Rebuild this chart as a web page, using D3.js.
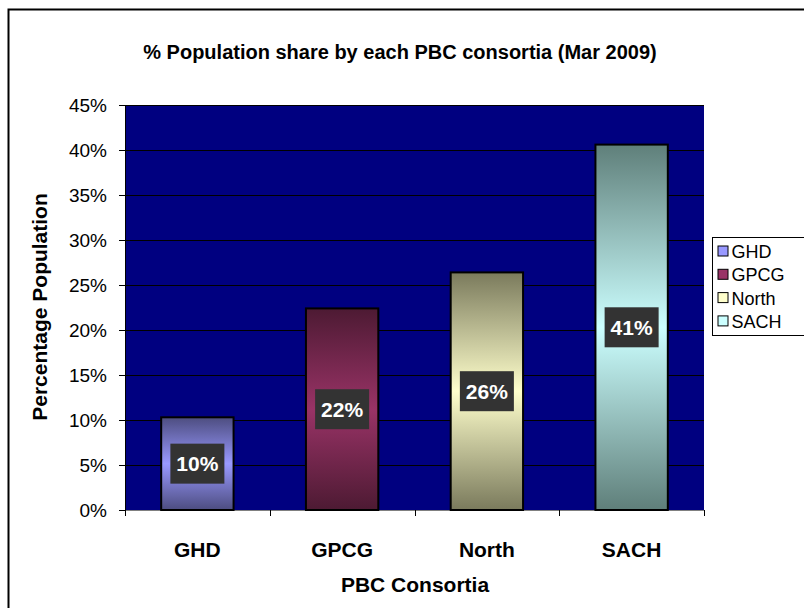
<!DOCTYPE html>
<html><head><meta charset="utf-8">
<script src="https://cdn.jsdelivr.net/npm/d3@7"></script>
<style>body{margin:0;background:#fff}svg{display:block}</style>
</head><body>
<script>
const categories = ["GHD", "GPCG", "North", "SACH"];
const values = [0.103, 0.224, 0.264, 0.406];
const labels = ["10%", "22%", "26%", "41%"];
const yTicks = [0, 0.05, 0.10, 0.15, 0.20, 0.25, 0.30, 0.35, 0.40, 0.45];
const baseColors = ["#9999ff", "#993366", "#ffffcc", "#ccffff"];
const darkColors = ["#4d4d80", "#4d1a33", "#7a7a5c", "#5f7f7a"];

const W = 804, H = 608;
const svg = d3.select("body").append("svg").attr("width", W).attr("height", H);
const font = "Liberation Sans, Arial, sans-serif";

svg.append("rect").attr("x", 8.5).attr("y", 9.5).attr("width", 820).attr("height", 620)
  .attr("fill", "#fff").attr("stroke", "#000").attr("stroke-width", 2);

const plot = {l: 125, r: 704, t: 105, b: 510};
const x = d3.scaleBand().domain(categories).range([plot.l, plot.r]).paddingInner(0.5).paddingOuter(0.25);
const xb = d3.scaleBand().domain(categories).range([plot.l, plot.r]);
const y = d3.scaleLinear().domain([0, 0.45]).range([plot.b, plot.t]);

const defs = svg.append("defs");
categories.forEach((c, i) => {
  const g = defs.append("linearGradient").attr("id", "g" + i).attr("x1", 0).attr("y1", 0).attr("x2", 0).attr("y2", 1);
  g.append("stop").attr("offset", "0%").attr("stop-color", darkColors[i]);
  g.append("stop").attr("offset", "50%").attr("stop-color", baseColors[i]);
  g.append("stop").attr("offset", "100%").attr("stop-color", darkColors[i]);
});

svg.append("rect").attr("x", plot.l).attr("y", plot.t).attr("width", plot.r - plot.l).attr("height", plot.b - plot.t)
  .attr("fill", "#000080");

// gridlines
svg.append("g").selectAll("line").data(yTicks.slice(1)).join("line")
  .attr("x1", plot.l).attr("x2", plot.r).attr("y1", d => Math.round(y(d)) + 0.5).attr("y2", d => Math.round(y(d)) + 0.5)
  .attr("stroke", "#000").attr("stroke-width", 1.2);

// y axis
const yAxis = svg.append("g").attr("transform", `translate(${plot.l},0)`)
  .call(d3.axisLeft(y).tickValues(yTicks).tickFormat(d3.format(".0%")).tickSize(6).tickPadding(12));
yAxis.select(".domain").attr("stroke", "#000");
yAxis.selectAll("text").attr("font-family", font).attr("font-size", 19).attr("fill", "#000");

// x axis
const xAxis = svg.append("g").attr("transform", `translate(0,${plot.b})`);
xAxis.append("line").attr("x1", plot.l).attr("x2", plot.r).attr("y1", 0.5).attr("y2", 0.5).attr("stroke", "#808080");
const bounds = categories.map(c => xb(c)).concat([plot.r]);
xAxis.selectAll("line.t").data(bounds).join("line").attr("class", "t")
  .attr("x1", d => Math.round(d) + 0.5).attr("x2", d => Math.round(d) + 0.5).attr("y1", 0).attr("y2", 6).attr("stroke", "#000");
xAxis.selectAll("text").data(categories).join("text")
  .attr("x", d => xb(d) + xb.bandwidth() / 2).attr("y", 47).attr("text-anchor", "middle")
  .attr("font-family", font).attr("font-size", 21).attr("font-weight", "bold").text(d => d);

// bars
svg.append("g").selectAll("rect").data(categories).join("rect")
  .attr("x", d => x(d)).attr("width", x.bandwidth())
  .attr("y", (d, i) => y(values[i])).attr("height", (d, i) => plot.b - y(values[i]))
  .attr("fill", (d, i) => `url(#g${i})`).attr("stroke", "#000").attr("stroke-width", 2);

// labels
const lg = svg.append("g").selectAll("g").data(categories).join("g")
  .attr("transform", (d, i) => `translate(${x(d) + x.bandwidth() / 2},${(y(values[i]) + plot.b) / 2})`);
lg.append("rect").attr("x", -27).attr("y", -20).attr("width", 54).attr("height", 40).attr("fill", "#333333");
lg.append("text").attr("text-anchor", "middle").attr("dy", "0.36em").attr("fill", "#fff")
  .attr("font-family", font).attr("font-size", 21).attr("font-weight", "bold").text((d, i) => labels[i]);

// title
svg.append("text").attr("x", 400).attr("y", 59).attr("text-anchor", "middle")
  .attr("font-family", font).attr("font-size", 20).attr("font-weight", "bold").text("% Population share by each PBC consortia (Mar 2009)");
svg.append("text").attr("x", 415).attr("y", 592).attr("text-anchor", "middle")
  .attr("font-family", font).attr("font-size", 21).attr("font-weight", "bold").text("PBC Consortia");
svg.append("text").attr("transform", "translate(47,307) rotate(-90)").attr("text-anchor", "middle")
  .attr("font-family", font).attr("font-size", 21).attr("font-weight", "bold").text("Percentage Population");

// legend
const leg = svg.append("g").attr("transform", "translate(712.5,237.5)");
leg.append("rect").attr("width", 120).attr("height", 98).attr("fill", "#fff").attr("stroke", "#000");
const li = leg.selectAll("g").data(categories).join("g").attr("transform", (d, i) => `translate(0,${14 + i * 23.3})`);
li.append("rect").attr("x", 5.5).attr("y", -5.5).attr("width", 10).attr("height", 10)
  .attr("fill", (d, i) => baseColors[i]).attr("stroke", "#000");
li.append("text").attr("x", 19).attr("dy", "0.36em").attr("font-family", font).attr("font-size", 18).text(d => d);
</script>
</body></html>
